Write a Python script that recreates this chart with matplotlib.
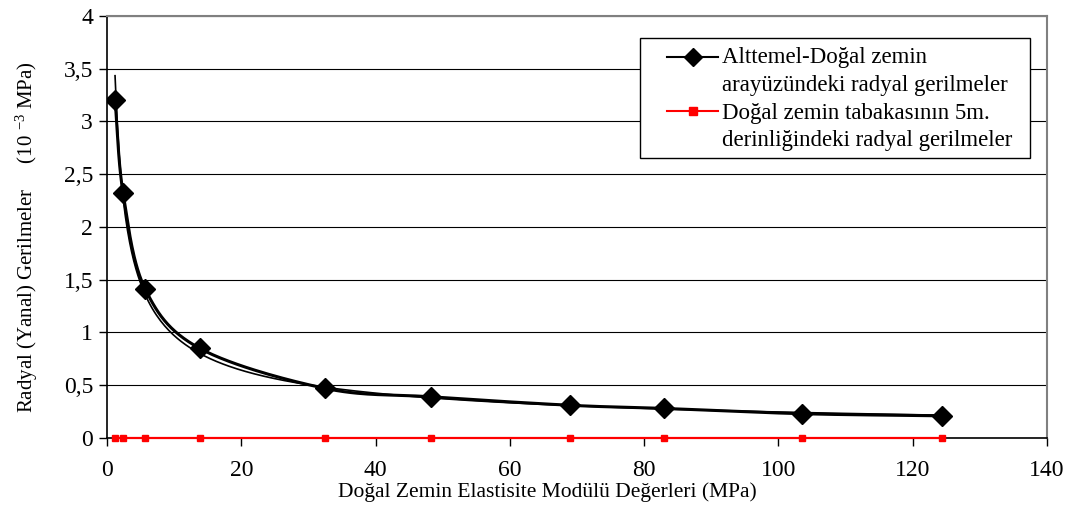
import numpy as np
import matplotlib
matplotlib.use("Agg")
import matplotlib.pyplot as plt
from matplotlib.lines import Line2D
from matplotlib.patches import Rectangle
from matplotlib.ticker import FuncFormatter, MultipleLocator

plt.rcParams["font.family"] = ["Liberation Serif", "DejaVu Serif"]
plt.rcParams["mathtext.fontset"] = "custom"
plt.rcParams["mathtext.rm"] = "Liberation Serif"
plt.rcParams["mathtext.it"] = "Liberation Serif:italic"

# Elasticity modulus of natural soil (MPa)
modulus = [1.2, 2.4, 5.7, 13.8, 32.5, 48.3, 69.0, 83.0, 103.5, 124.3]
# Radial stresses at subbase / natural soil interface (10^-3 MPa)
stress_interface = [3.20, 2.32, 1.41, 0.85, 0.47, 0.39, 0.31, 0.28, 0.23, 0.21]
# Radial stresses at 5 m depth of natural soil layer (10^-3 MPa)
stress_5m = [0, 0, 0, 0, 0, 0, 0, 0, 0, 0]

label_interface = ["Alttemel-Doğal zemin", "arayüzündeki radyal gerilmeler"]
label_5m = ["Doğal zemin tabakasının 5m.", "derinliğindeki radyal gerilmeler"]
x_label = "Doğal Zemin Elastisite Modülü Değerleri (MPa)"
y_label = "Radyal (Yanal) Gerilmeler     (10 $^{-3}$ MPa)"

W, H = 1072, 514


def catmull_rom(x, y, n=30):
    """Smooth curve through the given points (Catmull-Rom spline)."""
    x = np.asarray(x, float)
    y = np.asarray(y, float)
    px = np.concatenate([[2 * x[0] - x[1]], x, [2 * x[-1] - x[-2]]])
    py = np.concatenate([[2 * y[0] - y[1]], y, [2 * y[-1] - y[-2]]])
    xs, ys = [], []
    t = np.linspace(0, 1, n, endpoint=False)
    for i in range(1, len(px) - 2):
        for arr, out in ((px, xs), (py, ys)):
            p0, p1, p2, p3 = arr[i - 1], arr[i], arr[i + 1], arr[i + 2]
            out.extend(0.5 * ((2 * p1) + (-p0 + p2) * t
                              + (2 * p0 - 5 * p1 + 4 * p2 - p3) * t ** 2
                              + (-p0 + 3 * p1 - 3 * p2 + p3) * t ** 3))
    xs.append(x[-1])
    ys.append(y[-1])
    return np.array(xs), np.array(ys)


fig = plt.figure(figsize=(W / 100, H / 100), dpi=100)
ax = fig.add_axes([0.0998, 0.1479, 0.8769, 0.8210])

# power trendline fitted to the interface stresses
b, ln_a = np.polyfit(np.log(modulus), np.log(stress_interface), 1)
xt = np.linspace(modulus[0], modulus[-1], 400)
ax.plot(xt, np.exp(ln_a) * xt ** b, color="black", lw=1.2, zorder=3)

sx, sy = catmull_rom(modulus, stress_interface)
ax.plot(sx, sy, color="black", lw=2.2, zorder=4)
ax.plot(modulus, stress_interface, linestyle="none", marker="D",
        markersize=10, color="black", zorder=5)
ax.plot(modulus, stress_5m, color="#ff0000", lw=1.6, marker="s",
        markersize=5, zorder=5, clip_on=False)

ax.set_xlim(0, 140)
ax.set_ylim(0, 4)
ax.xaxis.set_major_locator(MultipleLocator(20))
ax.yaxis.set_major_locator(MultipleLocator(0.5))
ax.yaxis.set_major_formatter(FuncFormatter(lambda v, p: f"{v:g}".replace(".", ",")))
ax.grid(axis="y", color="black", lw=0.8)
ax.set_axisbelow(True)

for side in ("top", "right"):
    ax.spines[side].set_color("#808080")
    ax.spines[side].set_linewidth(1.5)
for side in ("left", "bottom"):
    ax.spines[side].set_color("black")
    ax.spines[side].set_linewidth(1.2)

ax.tick_params(axis="both", direction="out", length=6, width=1, labelsize=17,
               colors="black")
ax.tick_params(axis="x", pad=10)
ax.tick_params(axis="y", pad=4)
ax.set_xlabel(x_label, fontsize=15.5)
ax.xaxis.set_label_coords(0.469, -0.105)
ax.set_ylabel(y_label, fontsize=15)
ax.yaxis.set_label_coords(-0.071, 0.476)

# legend: framed box, a sample line per series and two-line labels
fx = lambda px: px / W
fy = lambda py: 1 - py / H
fig.patches.append(Rectangle((fx(640), fy(158)), fx(1030) - fx(640),
                             fy(38) - fy(158), transform=fig.transFigure,
                             facecolor="white", edgecolor="black", lw=1.0,
                             zorder=10))
entries = [
    (label_interface, "black", "D", 9, 57, (63, 91)),
    (label_5m, "#ff0000", "s", 5.5, 111, (119, 146)),
]
for lines, color, marker, msize, hy, baselines in entries:
    fig.add_artist(Line2D([fx(667), fx(718)], [fy(hy), fy(hy)],
                          transform=fig.transFigure, color=color, lw=1.5,
                          zorder=11))
    fig.add_artist(Line2D([fx(692.5)], [fy(hy)], transform=fig.transFigure,
                          color=color, marker=marker, markersize=msize,
                          linestyle="none", zorder=11))
    for text, base in zip(lines, baselines):
        fig.text(fx(722), fy(base), text, fontsize=16.5, ha="left",
                 va="baseline", zorder=11)

fig.savefig("out.png", dpi=100, facecolor="white")
